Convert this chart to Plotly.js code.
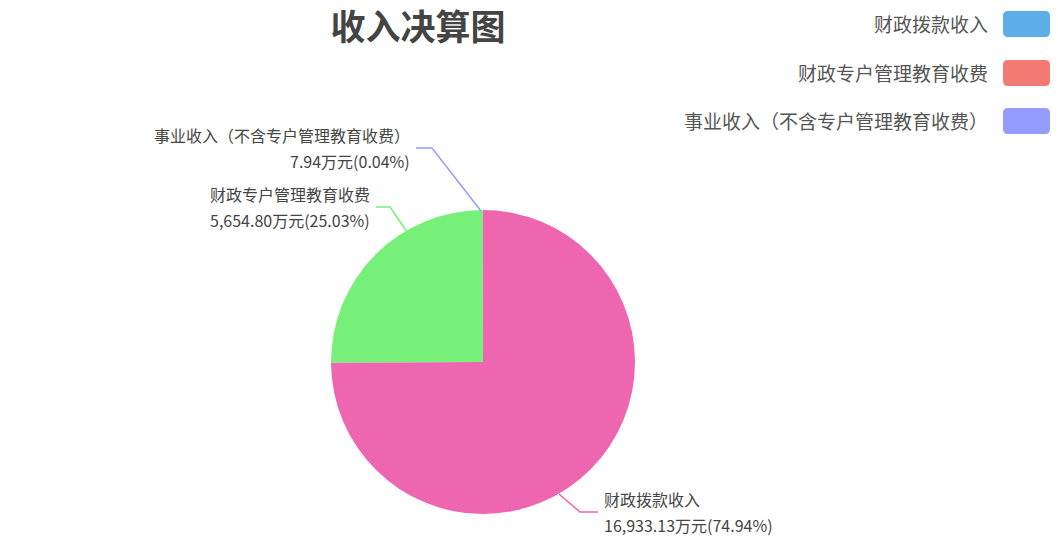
<!DOCTYPE html>
<html>
<head>
<meta charset="utf-8">
<script src="https://cdn.plot.ly/plotly-3.0.1.min.js"></script>
<style>html,body{margin:0;padding:0;background:#fff}#chart{width:1058px;height:542px}</style>
</head>
<body>
<div id="chart"></div>
<script>
// Data (万元)
const categories = ['财政拨款收入', '财政专户管理教育收费', '事业收入（不含专户管理教育收费）'];
const values = [16933.13, 5654.80, 7.94];
const sliceColors = ['#ee66b0', '#77f07a', '#959cff'];
const legendColors = ['#5dade8', '#f47a74', '#959cff'];

const total = values.reduce((a, b) => a + b, 0);
const fmt = v => v.toLocaleString('en-US', {minimumFractionDigits: 2, maximumFractionDigits: 2});
const pct = v => (v / total * 100).toFixed(2) + '%';

const W = 1058, H = 542;
const X = x => x / W, Y = y => (H - y) / H;
const cx = 483, cy = 362, r = 152;

const trace = {
  type: 'pie',
  labels: categories,
  values: values,
  sort: false,
  direction: 'clockwise',
  rotation: 0,
  marker: {colors: sliceColors, line: {width: 0}},
  textinfo: 'none',
  hoverinfo: 'label+value+percent',
  showlegend: false,
  domain: {x: [X(cx - r), X(cx + r)], y: [Y(cy + r), Y(cy - r)]}
};

// label layout: leader polyline points (px) and text anchor
const labelCfg = [
  {pts: [[559, 494], [580, 512], [598, 512]], tx: 602, ty: 512, anchor: 'left'},
  {pts: [[407, 232], [390, 207], [376, 207]], tx: 372, ty: 207, anchor: 'right'},
  {pts: [[481, 211], [432, 148], [416, 148]], tx: 412, ty: 148, anchor: 'right'}
];

const annotations = [];
const shapes = [];
labelCfg.forEach((c, i) => {
  shapes.push({type: 'path', xref: 'paper', yref: 'paper',
    path: c.pts.map((p, k) => (k ? 'L' : 'M') + X(p[0]) + ',' + Y(p[1])).join(' '),
    line: {color: sliceColors[i], width: 1.5}});
  const lines = [categories[i], fmt(values[i]) + '万元(' + pct(values[i]) + ')'];
  lines.forEach((t, k) => {
    annotations.push({x: X(c.tx), y: Y(c.ty + (k ? 13 : -13)), xref: 'paper', yref: 'paper',
      text: t, showarrow: false, xanchor: c.anchor, yanchor: 'middle',
      font: {family: 'Noto Sans CJK SC, sans-serif', size: 16, color: '#444'}});
  });
});

// manual legend (legend swatch colours differ from slice colours in the reference)
const legendY = [24, 73, 121];
const rr = (x0, y0, x1, y1, k) =>
  `M${X(x0 + k)},${Y(y0)} L${X(x1 - k)},${Y(y0)} Q${X(x1)},${Y(y0)} ${X(x1)},${Y(y0 + k)} ` +
  `L${X(x1)},${Y(y1 - k)} Q${X(x1)},${Y(y1)} ${X(x1 - k)},${Y(y1)} L${X(x0 + k)},${Y(y1)} ` +
  `Q${X(x0)},${Y(y1)} ${X(x0)},${Y(y1 - k)} L${X(x0)},${Y(y0 + k)} Q${X(x0)},${Y(y0)} ${X(x0 + k)},${Y(y0)} Z`;
categories.forEach((c, i) => {
  shapes.push({type: 'path', xref: 'paper', yref: 'paper',
    path: rr(1003, legendY[i] - 13, 1050, legendY[i] + 13, 5),
    fillcolor: legendColors[i], line: {width: 0}});
  annotations.push({x: X(990), y: Y(legendY[i]), xref: 'paper', yref: 'paper',
    text: c, showarrow: false, xanchor: 'right', yanchor: 'middle',
    font: {family: 'Noto Sans CJK SC, sans-serif', size: 19, color: '#555'}});
});

const layout = {
  width: W, height: H,
  margin: {l: 0, r: 0, t: 0, b: 0},
  paper_bgcolor: '#fff',
  title: {text: '<b>收入决算图</b>', x: X(418), xanchor: 'center', y: Y(28), yanchor: 'middle',
    font: {family: 'Noto Sans CJK SC, sans-serif', size: 35, color: '#444'}},
  showlegend: false,
  annotations: annotations,
  shapes: shapes
};

Plotly.newPlot('chart', [trace], layout, {displayModeBar: false, staticPlot: true});
</script>
</body>
</html>
